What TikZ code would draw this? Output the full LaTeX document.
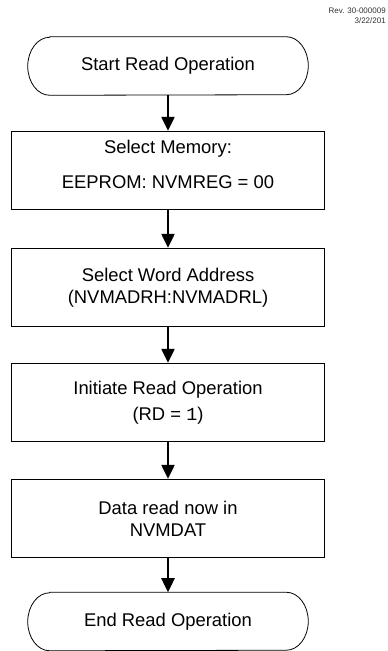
\documentclass[tikz,border=0pt]{standalone}
\usepackage{fontspec}
\setmainfont{Liberation Sans}
\newfontfamily\codefont{Liberation Mono}
\usetikzlibrary{arrows.meta}

\begin{document}
\begin{tikzpicture}[x=0.75pt,y=-0.75pt,
        every node/.style={font=\fontsize{13.8pt}{16.6pt}\selectfont},
        terminal/.style={rectangle,minimum width=210pt,minimum height=43.5pt,inner sep=0pt},
        process/.style={draw,line width=1.1pt,rectangle,minimum width=234.75pt,minimum height=58.5pt,align=center,inner sep=0pt},
        flow/.style={line width=1pt,-{Triangle[width=10pt,length=10.5pt]}}]
        % size of the sheet
        \useasboundingbox (0,0) rectangle (387,651);
        \pgfmathsetmacro{\mid}{168} % centre line of the chart
        % revision stamp
        \node[font=\fontsize{6pt}{7.5pt}\selectfont,text=black!80,anchor=north east,align=right,inner sep=0pt] (rev) at (386,8) {Rev. 30-000009\\3/22/201};
        % the steps
        \node[terminal] (start) at (\mid,66) {Start Read Operation\hspace{15pt}};
        \node[process] (mem) at (\mid,170.5) {Select Memory:\\[9.6pt]EEPROM: NVMREG = 00\\[-7pt]\mbox{}};
        \node[process] (addr) at (\mid,287.5) {Select Word Address\\(NVMADRH:NVMADRL)};
        \node[process] (rd) at (\mid,402.5) {Initiate Read Operation\\[3pt](RD = {\codefont 1})};
        \node[process] (dat) at (\mid,518.5) {Data read now in\\NVMDAT};
        \node[terminal] (stop) at (\mid,621.5) {End Read Operation\hspace{20pt}};
        % outline of the two end points
        \foreach \p in {start,stop}
            \draw[line width=0.6pt] ([xshift=16.5pt]\p.north west) -- ([xshift=-16.5pt]\p.north east)
                arc[start angle=90,end angle=-90,x radius=16.5pt,y radius=21.75pt]
                -- ([xshift=16.5pt]\p.south west)
                arc[start angle=270,end angle=90,x radius=16.5pt,y radius=21.75pt] -- cycle;
        % connectors
        \foreach \a/\b in {start/mem,mem/addr,addr/rd,rd/dat,dat/stop}
            \draw[flow] (\a) -- (\b);
        %
    \end{tikzpicture}
\end{document}
